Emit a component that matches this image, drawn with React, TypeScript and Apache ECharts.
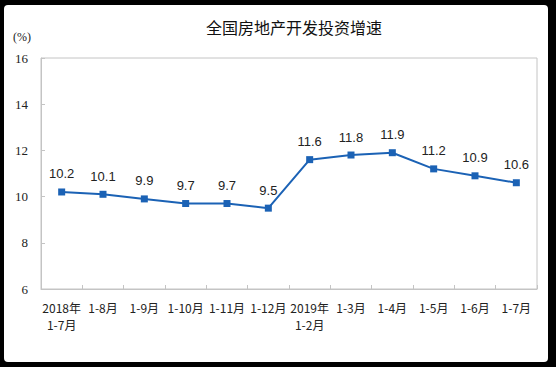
import React, { useEffect, useRef } from "react";
import * as echarts from "echarts";

const titleText = "全国房地产开发投资增速";
const unitText = "(%)";
const categories = [
  "2018年\n1-7月",
  "1-8月",
  "1-9月",
  "1-10月",
  "1-11月",
  "1-12月",
  "2019年\n1-2月",
  "1-3月",
  "1-4月",
  "1-5月",
  "1-6月",
  "1-7月",
];
const growth = [10.2, 10.1, 9.9, 9.7, 9.7, 9.5, 11.6, 11.8, 11.9, 11.2, 10.9, 10.6];
const yMin = 6;
const yMax = 16;
const yStep = 2;

export default function App() {
  const ref = useRef<HTMLDivElement>(null);
  useEffect(() => {
    if (!ref.current) return;
    const chart = echarts.init(ref.current, null, { renderer: "svg" });
    const serif = "'Liberation Serif', 'Noto Serif CJK SC', 'Noto Sans CJK SC', serif";
    const cjk = "'Noto Sans CJK SC', 'Liberation Serif', serif";
    chart.setOption({
      animation: false,
      backgroundColor: "#000",
      graphic: [
        {
          type: "rect",
          z: -10,
          shape: { x: 4, y: 5, width: 544, height: 357, r: 4 },
          style: { fill: "#fff" },
        },
        {
          type: "text",
          left: 13,
          top: 31,
          style: { text: unitText, fontSize: 12, fontFamily: serif, fill: "#222" },
        },
      ],
      title: {
        text: titleText,
        left: 289,
        textAlign: "center",
        top: 14,
        textStyle: { fontSize: 16, fontWeight: "normal", color: "#111", fontFamily: cjk },
      },
      grid: {
        left: 41,
        right: 19,
        top: 58,
        bottom: 78,
        show: true,
        borderColor: "#c4c4c4",
        borderWidth: 1,
        backgroundColor: "#fff",
      },
      xAxis: {
        type: "category",
        data: categories,
        boundaryGap: true,
        axisLine: { show: true, lineStyle: { color: "#c4c4c4", width: 1 } },
        axisTick: { show: true, inside: true, length: 4, lineStyle: { color: "#c4c4c4" } },
        axisLabel: {
          interval: 0,
          margin: 10,
          fontSize: 12,
          lineHeight: 17,
          color: "#222",
          fontFamily: cjk,
        },
        splitLine: { show: false },
      },
      yAxis: {
        type: "value",
        min: yMin,
        max: yMax,
        interval: yStep,
        axisLine: { show: true, lineStyle: { color: "#c4c4c4", width: 1 } },
        axisTick: { show: true, inside: true, length: 4, lineStyle: { color: "#c4c4c4" } },
        axisLabel: { margin: 13, fontSize: 13, color: "#222", fontFamily: serif },
        splitLine: { show: false },
      },
      series: [
        {
          type: "line",
          data: growth,
          symbol: "rect",
          symbolSize: 7,
          lineStyle: { color: "#1B62B5", width: 2 },
          itemStyle: { color: "#1B62B5" },
          label: {
            show: true,
            position: "top",
            distance: 8,
            fontSize: 13,
            color: "#222",
            fontFamily: "'Liberation Sans', Arial, sans-serif",
          },
        },
      ],
    });
    return () => chart.dispose();
  }, []);
  return (
    <div
      ref={ref}
      style={{ position: "fixed", left: 0, top: 0, width: 556, height: 367, background: "#000" }}
    />
  );
}
